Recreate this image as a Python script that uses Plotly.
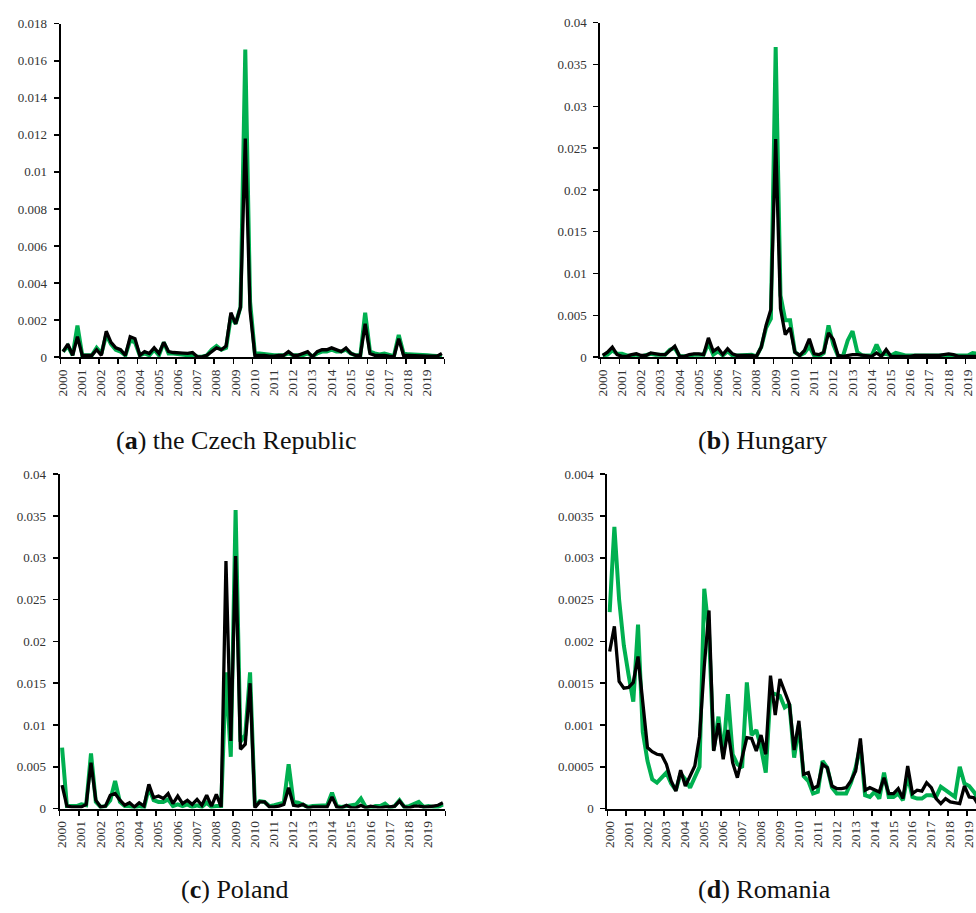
import plotly.graph_objects as go

# ---------------- data (quarterly, 2000Q1 .. 2019Q4) ----------------
years = [str(y) for y in range(2000, 2020)]
quarters = [i + 0.5 for i in range(80)]          # category centres
year_ticks = [4 * k for k in range(21)]            # category boundaries
year_labels = years + [""]

cz_green = [0.0003, 0.0006, 0.0001, 0.0017, 0.0001, 0.0001, 0.0001, 0.0005, 0.0002, 0.0012,
            0.0007, 0.0004, 0.0003, 0.0001, 0.0009, 0.0008, 0.0001, 0.0002, 0.0001, 0.0004,
            0.0001, 0.0008, 0.0002, 0.0002, 0.00015, 0.00015, 0.0001, 0.0001, 0.00002, 0.00002,
            0.0001, 0.0004, 0.0006, 0.0004, 0.0005, 0.0022, 0.0018, 0.0027, 0.0166, 0.0030,
            0.0002, 0.0002, 0.00015, 0.00012, 0.0001, 0.0001, 0.0001, 0.0002, 0.0001, 0.0001,
            0.0001, 0.0002, 0.00005, 0.0002, 0.0003, 0.0003, 0.0004, 0.0003, 0.0003, 0.0004,
            0.0002, 0.0001, 0.0001, 0.0024, 0.0003, 0.0002, 0.00015, 0.0002, 0.0001, 0.00005,
            0.0012, 0.0002, 0.00015, 0.00015, 0.00012, 0.0001, 0.0001, 0.00008, 0.00005, 0.00005]
cz_black = [0.0003, 0.0007, 0.0001, 0.0011, 0.0001, 0.0001, 0.0001, 0.0004, 0.0001, 0.0014,
            0.0008, 0.0005, 0.0004, 0.0001, 0.0011, 0.0010, 0.0001, 0.0003, 0.0002, 0.0005,
            0.0002, 0.0008, 0.0003, 0.00025, 0.00025, 0.00022, 0.0002, 0.00025, 0.00002, 0.00002,
            0.0001, 0.0003, 0.0005, 0.0004, 0.0006, 0.0024, 0.0018, 0.0027, 0.0118, 0.0025,
            0.0001, 0.0001, 0.0001, 0.00005, 0.00005, 0.0001, 0.0001, 0.0003, 0.0001, 0.0001,
            0.0002, 0.0003, 0.00002, 0.0003, 0.0004, 0.0004, 0.0005, 0.0004, 0.0003, 0.0005,
            0.0002, 0.0001, 0.0001, 0.0018, 0.0002, 0.0001, 0.0001, 0.0001, 0.00005, 0.00002,
            0.0010, 0.0001, 0.0001, 0.0001, 0.0001, 0.00008, 0.00006, 0.00005, 0.00005, 0.0002]

hu_green = [0.0002, 0.0003, 0.0008, 0.0004, 0.0004, 0.0002, 0.0002, 0.0003, 0.0001, 0.0002,
            0.0004, 0.0003, 0.0003, 0.0003, 0.0009, 0.0011, 0.0001, 0.0001, 0.0001, 0.0003,
            0.0003, 0.0003, 0.0017, 0.0003, 0.0007, 0.0002, 0.0007, 0.0002, 0.0002, 0.0002,
            0.0003, 0.0003, 0.0001, 0.0012, 0.0035, 0.0046, 0.0371, 0.0074, 0.0044, 0.0044,
            0.0006, 0.0002, 0.0005, 0.0013, 0.0002, 0.0001, 0.0005, 0.0038, 0.0015, 0.0001,
            0.0001, 0.0020, 0.0031, 0.0006, 0.0002, 0.0002, 0.0002, 0.0015, 0.0003, 0.0004,
            0.0002, 0.0005, 0.0003, 0.0002, 0.0002, 0.0002, 0.0002, 0.0002, 0.0002, 0.0002,
            0.0002, 0.0002, 0.0003, 0.0003, 0.0003, 0.0003, 0.0002, 0.0005, 0.0004, 0.0003]
hu_black = [0.0002, 0.0006, 0.0012, 0.0003, 0.0001, 0.0001, 0.0003, 0.0004, 0.0002, 0.0002,
            0.0005, 0.0004, 0.0003, 0.0003, 0.0008, 0.0013, 0.0001, 0.0001, 0.0003, 0.0004,
            0.0004, 0.0003, 0.0023, 0.0007, 0.0011, 0.0003, 0.0010, 0.0004, 0.0002, 0.0002,
            0.0002, 0.0002, 0.0001, 0.0012, 0.0038, 0.0057, 0.0261, 0.0058, 0.0027, 0.0035,
            0.0006, 0.0002, 0.0008, 0.0022, 0.0004, 0.0003, 0.0006, 0.0029, 0.0021, 0.0002,
            0.0001, 0.0002, 0.0003, 0.0003, 0.0002, 0.0001, 0.0001, 0.0005, 0.0001, 0.0009,
            0.0001, 0.0001, 0.0001, 0.0001, 0.0001, 0.0002, 0.0002, 0.0002, 0.0002, 0.0002,
            0.0002, 0.0003, 0.0004, 0.0003, 0.0001, 0.0001, 0.0001, 0.0001, 0.0001, 0.0001]

pl_green = [0.0073, 0.0003, 0.0003, 0.0003, 0.0005, 0.0004, 0.0066, 0.0008, 0.0002, 0.0003,
            0.0010, 0.0033, 0.0008, 0.0003, 0.0003, 0.0001, 0.0003, 0.0001, 0.0025, 0.0010,
            0.0008, 0.0008, 0.0011, 0.0003, 0.0005, 0.0003, 0.0005, 0.0002, 0.0004, 0.0002,
            0.0007, 0.0002, 0.0003, 0.0003, 0.0163, 0.0062, 0.0357, 0.0080, 0.0088, 0.0163,
            0.0003, 0.0009, 0.0008, 0.0003, 0.0004, 0.0005, 0.0007, 0.0053, 0.0008, 0.0007,
            0.0004, 0.0002, 0.0003, 0.0003, 0.0003, 0.0004, 0.0019, 0.0003, 0.0002, 0.0003,
            0.0004, 0.0005, 0.0012, 0.0002, 0.0001, 0.0003, 0.0003, 0.0006, 0.0001, 0.0003,
            0.0010, 0.0002, 0.0003, 0.0006, 0.0008, 0.0002, 0.0003, 0.0002, 0.0002, 0.0005]
pl_black = [0.0028, 0.0003, 0.0002, 0.0002, 0.0002, 0.0005, 0.0055, 0.0010, 0.0002, 0.0003,
            0.0016, 0.0018, 0.0010, 0.0004, 0.0007, 0.0002, 0.0007, 0.0003, 0.0029, 0.0013,
            0.0015, 0.0012, 0.0018, 0.0006, 0.0015, 0.0006, 0.0010, 0.0005, 0.0011, 0.0004,
            0.0016, 0.0003, 0.0017, 0.0002, 0.0296, 0.0081, 0.0302, 0.0071, 0.0077, 0.0150,
            0.0001, 0.0008, 0.0008, 0.0002, 0.0002, 0.0003, 0.0005, 0.0025, 0.0004, 0.0003,
            0.0005, 0.0001, 0.0002, 0.0002, 0.0002, 0.0002, 0.0014, 0.0002, 0.0001, 0.0004,
            0.0001, 0.0001, 0.0004, 0.0001, 0.0003, 0.0002, 0.0001, 0.0002, 0.0002, 0.0003,
            0.0009, 0.0002, 0.0001, 0.0003, 0.0003, 0.0002, 0.0002, 0.0003, 0.0004, 0.0007]

ro_green = [0.00235, 0.00337, 0.00250, 0.00195, 0.00160, 0.00128, 0.00220, 0.00092, 0.00057, 0.00035,
            0.00031, 0.00037, 0.00043, 0.00030, 0.00022, 0.00042, 0.00035, 0.00025, 0.00038, 0.00050,
            0.00263, 0.00210, 0.00070, 0.00110, 0.00064, 0.00137, 0.00065, 0.00053, 0.00049, 0.00151,
            0.00088, 0.00094, 0.00073, 0.00043, 0.00139, 0.00137, 0.00135, 0.00121, 0.00125, 0.00061,
            0.00100, 0.00039, 0.00033, 0.00018, 0.00020, 0.00057, 0.00049, 0.00025, 0.00018, 0.00018,
            0.00018, 0.00031, 0.00049, 0.00076, 0.00016, 0.00014, 0.00020, 0.00012, 0.00043, 0.00014,
            0.00014, 0.00018, 0.00010, 0.00040, 0.00014, 0.00012, 0.00012, 0.00016, 0.00016, 0.00014,
            0.00026, 0.00022, 0.00018, 0.00014, 0.00050, 0.00030, 0.00027, 0.00020, 0.00010, 0.00005]
ro_black = [0.00188, 0.00218, 0.00152, 0.00144, 0.00145, 0.00151, 0.00182, 0.00125, 0.00073, 0.00068,
            0.00065, 0.00064, 0.00053, 0.00033, 0.00021, 0.00046, 0.00027, 0.00039, 0.00051, 0.00086,
            0.00170, 0.00237, 0.00069, 0.00102, 0.00059, 0.00094, 0.00055, 0.00037, 0.00061, 0.00085,
            0.00084, 0.00069, 0.00088, 0.00065, 0.00159, 0.00112, 0.00155, 0.00141, 0.00125, 0.00070,
            0.00105, 0.00041, 0.00043, 0.00024, 0.00027, 0.00053, 0.00049, 0.00027, 0.00024, 0.00024,
            0.00025, 0.00033, 0.00045, 0.00084, 0.00022, 0.00025, 0.00022, 0.00020, 0.00037, 0.00018,
            0.00018, 0.00024, 0.00012, 0.00051, 0.00018, 0.00022, 0.00021, 0.00031, 0.00025, 0.00012,
            0.00006, 0.00012, 0.00008, 0.00007, 0.00006, 0.00027, 0.00014, 0.00013, 0.00004, 0.00003]

cz_yticks = [0, 0.002, 0.004, 0.006, 0.008, 0.01, 0.012, 0.014, 0.016, 0.018]
cz_ylabels = ["0", "0.002", "0.004", "0.006", "0.008", "0.01", "0.012", "0.014", "0.016", "0.018"]
big_yticks = [0, 0.005, 0.01, 0.015, 0.02, 0.025, 0.03, 0.035, 0.04]
big_ylabels = ["0", "0.005", "0.01", "0.015", "0.02", "0.025", "0.03", "0.035", "0.04"]
ro_yticks = [0, 0.0005, 0.001, 0.0015, 0.002, 0.0025, 0.003, 0.0035, 0.004]
ro_ylabels = ["0", "0.0005", "0.001", "0.0015", "0.002", "0.0025", "0.003", "0.0035", "0.004"]

captions = ["(<b>a</b>) the Czech Republic", "(<b>b</b>) Hungary",
            "(<b>c</b>) Poland", "(<b>d</b>) Romania"]

GREEN = "#00B050"
BLACK = "#000000"
W, H = 976, 913
SERIF = "Liberation Serif"

# page-pixel geometry: (x0, x1, y_top, y_bottom, x_range_max, ...)
panels = [
    (55, 441, 17, 356, 80.0, cz_green, cz_black, cz_yticks, cz_ylabels, 0.018),
    (598, 976, 16, 356, 78.2, hu_green, hu_black, big_yticks, big_ylabels, 0.04),
    (54, 442, 475, 815, 80.0, pl_green, pl_black, big_yticks, big_ylabels, 0.04),
    (605, 976, 475, 815, 77.94, ro_green, ro_black, ro_yticks, ro_ylabels, 0.004),
]

fig = go.Figure()
layout = dict(
    width=W, height=H, margin=dict(l=0, r=0, t=0, b=0, pad=0),
    paper_bgcolor="white", plot_bgcolor="white", showlegend=False,
    font=dict(family=SERIF, color="#333333"),
)

for k, (x0, x1, yt, yb, xmax, g, b, yv, yl, ymax) in enumerate(panels):
    n = "" if k == 0 else str(k + 1)
    fig.add_trace(go.Scatter(x=quarters, y=g, mode="lines", name="series 1",
                             line=dict(color=GREEN, width=4.0),
                             xaxis="x" + n, yaxis="y" + n, hoverinfo="skip"))
    fig.add_trace(go.Scatter(x=quarters, y=b, mode="lines", name="series 2",
                             line=dict(color=BLACK, width=3.3),
                             xaxis="x" + n, yaxis="y" + n, hoverinfo="skip"))
    layout["xaxis" + n] = dict(
        domain=[x0 / W, x1 / W], anchor="y" + n, range=[0, xmax],
        tickmode="array", tickvals=year_ticks, ticktext=year_labels,
        tickangle=-90, ticks="outside", ticklen=5, tickwidth=1.5, tickcolor="black",
        showline=True, linecolor="black", linewidth=2, showgrid=False, zeroline=False,
        tickfont=dict(family=SERIF, size=13.5, color="#333333"), ticklabelshift=2,
        ticklabeloverflow="allow", fixedrange=True,
    )
    layout["yaxis" + n] = dict(
        domain=[1 - yb / H, 1 - yt / H], anchor="x" + n, range=[0, ymax],
        tickmode="array", tickvals=yv, ticktext=yl,
        ticks="outside", ticklen=5, tickwidth=1.5, tickcolor="black",
        showline=True, linecolor="black", linewidth=2, showgrid=False, zeroline=False,
        tickfont=dict(family=SERIF, size=13, color="#333333"), ticklabelstandoff=4,
        fixedrange=True,
    )

cap_pos = [(231, 441), (761, 441), (230, 897), (763, 897)]
layout["annotations"] = [
    dict(text=t, x=cx / W, y=1 - cy / H, xref="paper", yref="paper",
         showarrow=False, xanchor="center", yanchor="middle", borderpad=0,
         font=dict(family=SERIF, size=26, color="#111111"))
    for t, (cx, cy) in zip(captions, cap_pos)
]

fig.update_layout(**layout)
fig.write_html("out.html", config={"displayModeBar": False, "staticPlot": True},
               post_script="document.body.style.margin='0';document.body.style.overflow='hidden';")
